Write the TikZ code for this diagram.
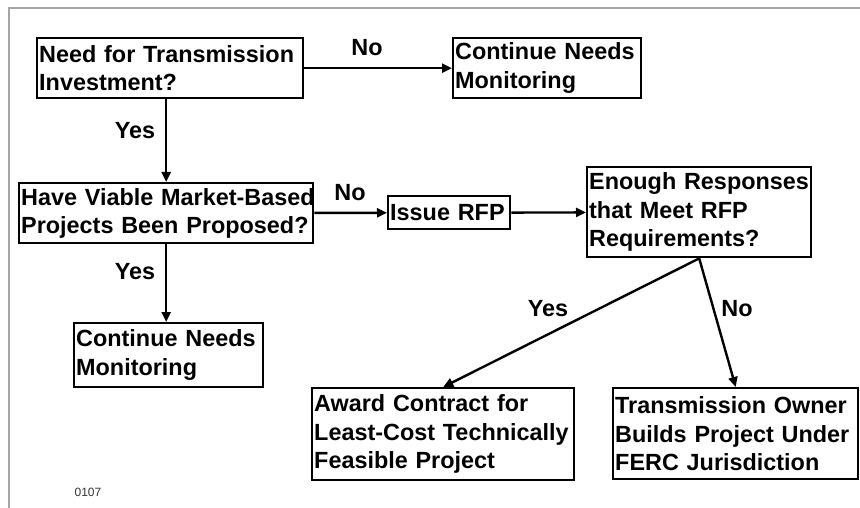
\documentclass[tikz,border=0pt]{standalone}
\usepackage{fontspec}
\setmainfont{Liberation Sans}
\usetikzlibrary{arrows.meta}

\begin{document}
\begin{tikzpicture}[x=1pt, y=-1pt,
    >={Triangle[length=10pt, width=9pt]},
    hop/.style={draw, line width=2.4pt, anchor=north west, align=left,
        inner xsep=2pt, inner ysep=0pt,
        font=\fontsize{23.4}{28.5}\selectfont\bfseries},
    nhan/.style={font=\fontsize{23.4}{28.5}\selectfont\bfseries},
    duong/.style={->, line width=2.4pt}]

    \useasboundingbox (0,0) rectangle (860,508);

    % =================================================================
    % KHUNG XÁM
    % =================================================================
    \draw[line width=2pt, gray!70] (9,508) -- (9,8) -- (860,8);

    % =================================================================
    % CÁC HỘP
    % =================================================================
    \node[hop, text width=262pt, minimum height=60pt] (need) at (36,37)
        {Need for Transmission\\Investment?};
    \node[hop, text width=184pt, minimum height=60pt] (cont1) at (452,37)
        {Continue Needs\\Monitoring};
    \node[hop, text width=290pt, minimum height=60pt] (have) at (18,182)
        {\mbox{Have Viable Market-Based}\\\mbox{Projects Been Proposed?}};
    \node[hop, text width=118pt, minimum height=33pt] (rfp) at (387,195)
        {Issue RFP};
    \node[hop, text width=220pt, minimum height=90pt] (enough) at (586,166)
        {Enough Responses\\that Meet RFP\\Requirements?};
    \node[hop, text width=185pt, minimum height=64pt] (cont2) at (73,322)
        {Continue Needs\\Monitoring};
    \node[hop, text width=258pt, minimum height=92pt] (award) at (311,387)
        {Award Contract for\\Least-Cost Technically\\Feasible Project};
    \node[hop, text width=241pt, minimum height=91pt] (owner) at (612,387)
        {Transmission Owner\\Builds Project Under\\FERC Jurisdiction};

    % Nhãn Yes / No
    \node[nhan] (no1) at (367,48) {No};
    \node[nhan] (yes1) at (135,131) {Yes};
    \node[nhan] (no2) at (350,193) {No};
    \node[nhan] (yes2) at (135,272) {Yes};
    \node[nhan] (yes3) at (548,309) {Yes};
    \node[nhan] (no3) at (737,309) {No};

    \node[font=\fontsize{12}{14}\selectfont, text=black!80] (ma) at (88,492) {0107};

    % =================================================================
    % MŨI TÊN
    % =================================================================
    \draw[duong] (need) -- (cont1);
    \draw[duong] (need.south -| have.north) -- (have.north);
    \draw[duong] (have) -- (rfp);
    \draw[duong] (rfp) -- (enough);
    \draw[duong] (have.south) -- (have.south |- cont2.north);
    \draw[duong] (enough.south) -- (award.north);
    \draw[duong] (enough.south) -- (owner.north);

\end{tikzpicture}
\end{document}
